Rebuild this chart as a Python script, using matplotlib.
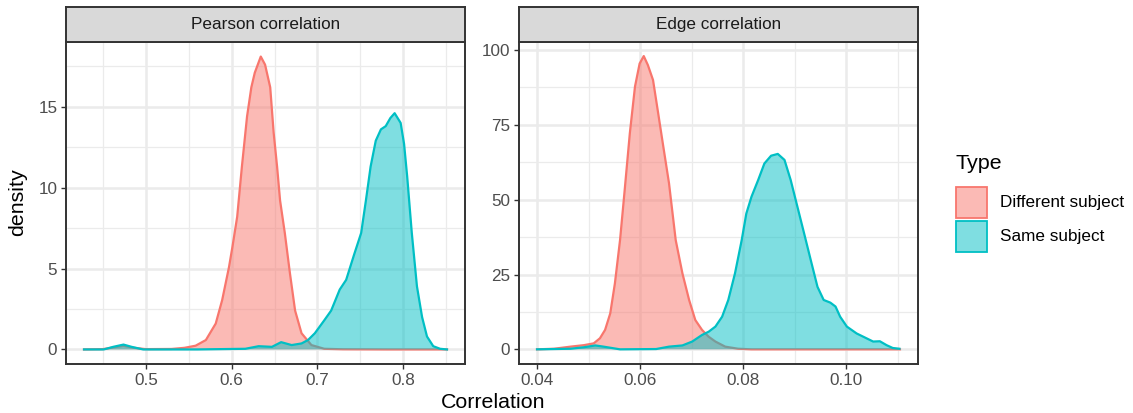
import matplotlib
matplotlib.use("Agg")
import matplotlib.pyplot as plt
from matplotlib.colors import to_rgba
from matplotlib.patches import Rectangle

plt.rcParams['font.family'] = ['Liberation Sans', 'DejaVu Sans']

# ---- data (density estimates) ----
panels = ['Pearson correlation', 'Edge correlation']
types = ['Different subject', 'Same subject']

pearson_diff_x = [0.428, 0.450, 0.462, 0.474, 0.486, 0.500, 0.530, 0.545, 0.558, 0.570,
                  0.5815, 0.589, 0.597, 0.601, 0.6065, 0.612, 0.618, 0.623, 0.627, 0.634,
                  0.639, 0.645, 0.649, 0.653, 0.6565, 0.662, 0.668, 0.674, 0.6815, 0.693,
                  0.708, 0.730, 0.780, 0.851]
pearson_diff_y = [0.0, 0.02, 0.12, 0.22, 0.10, 0.02, 0.03, 0.10, 0.23, 0.58,
                  1.6, 3.05, 5.1, 6.35, 8.2, 11.3, 14.4, 16.2, 17.1, 18.1,
                  17.6, 16.2, 13.4, 11.3, 9.2, 7.2, 4.7, 2.4, 1.0, 0.27,
                  0.04, 0.01, 0.0, 0.0]

pearson_same_x = [0.428, 0.451, 0.462, 0.474, 0.4835, 0.497, 0.560, 0.616, 0.6315, 0.647,
                  0.6577, 0.670, 0.6815, 0.689, 0.697, 0.708, 0.716, 0.726, 0.7335, 0.743,
                  0.751, 0.7565, 0.762, 0.768, 0.774, 0.7796, 0.785, 0.790, 0.797, 0.801,
                  0.8046, 0.810, 0.816, 0.822, 0.8277, 0.835, 0.843, 0.851]
pearson_same_y = [0.0, 0.0, 0.16, 0.30, 0.16, 0.0, 0.0, 0.04, 0.20, 0.16,
                  0.45, 0.27, 0.37, 0.58, 1.0, 1.8, 2.4, 3.7, 4.3, 5.9,
                  7.2, 9.2, 11.3, 12.9, 13.6, 13.8, 14.3, 14.6, 14.0, 12.7,
                  10.7, 7.2, 3.9, 2.0, 0.8, 0.2, 0.04, 0.0]

edge_diff_x = [0.0400, 0.0433, 0.0465, 0.0491, 0.0510, 0.0522, 0.0532, 0.0542, 0.0551, 0.0561,
               0.0570, 0.0580, 0.0590, 0.0599, 0.0607, 0.0615, 0.0625, 0.0634, 0.0644, 0.0656,
               0.0669, 0.0682, 0.0695, 0.0707, 0.0720, 0.0733, 0.0746, 0.0765, 0.0790, 0.0816,
               0.1104]
edge_diff_y = [0.0, 0.2, 0.9, 1.4, 2.0, 3.7, 6.5, 12.0, 22.0, 36.5,
               53.2, 72.2, 87.8, 95.5, 98.0, 95.0, 90.0, 80.0, 68.8, 55.5,
               36.5, 25.4, 16.5, 9.8, 6.5, 4.2, 2.6, 0.9, 0.2, 0.0,
               0.0]

edge_same_x = [0.0400, 0.0465, 0.0491, 0.0513, 0.0529, 0.0561, 0.0631, 0.0656, 0.0682, 0.0701,
               0.0720, 0.0733, 0.0746, 0.0759, 0.0771, 0.0784, 0.0797, 0.0806, 0.0816, 0.0829,
               0.0841, 0.0854, 0.0867, 0.0880, 0.0892, 0.0905, 0.0918, 0.0931, 0.0944, 0.0956,
               0.0969, 0.0979, 0.0988, 0.1001, 0.1020, 0.1039, 0.1052, 0.1065, 0.1078, 0.1090,
               0.1103]
edge_same_y = [0.0, 0.2, 0.7, 1.3, 0.9, 0.0, 0.1, 0.9, 1.3, 2.6,
               4.8, 5.9, 7.6, 10.9, 16.5, 25.4, 36.5, 45.4, 51.0, 56.6,
               62.1, 64.7, 65.3, 63.3, 56.6, 47.7, 38.8, 29.8, 20.9, 16.5,
               15.6, 14.3, 10.9, 7.6, 5.3, 3.7, 2.6, 2.7, 1.4, 0.45,
               0.2]

series = {
    panels[0]: [(pearson_diff_x, pearson_diff_y), (pearson_same_x, pearson_same_y)],
    panels[1]: [(edge_diff_x, edge_diff_y), (edge_same_x, edge_same_y)],
}
colors = ['#F8766D', '#00BFC4']

xlims = {panels[0]: (0.407, 0.872), panels[1]: (0.0365, 0.1139)}
ylims = {panels[0]: (-0.9, 19.0), panels[1]: (-4.9, 102.7)}
xmajor = {panels[0]: [0.5, 0.6, 0.7, 0.8], panels[1]: [0.04, 0.06, 0.08, 0.10]}
xminor = {panels[0]: [0.45, 0.55, 0.65, 0.75, 0.85], panels[1]: [0.05, 0.07, 0.09, 0.11]}
ymajor = {panels[0]: [0, 5, 10, 15], panels[1]: [0, 25, 50, 75, 100]}
yminor = {panels[0]: [2.5, 7.5, 12.5, 17.5], panels[1]: [12.5, 37.5, 62.5, 87.5]}
xfmt = {panels[0]: '{:.1f}', panels[1]: '{:.2f}'}

SMALL = 12.3
BIG = 15.4

W, H = 1133, 413
fig = plt.figure(figsize=(W / 100, H / 100), dpi=100)

lefts = [66, 519]
pw = 399
top, bottom = 42, 364
strip_h = 35

for panel, lx in zip(panels, lefts):
    ax = fig.add_axes([lx / W, (H - bottom) / H, pw / W, (bottom - top) / H])
    ax.set_xlim(*xlims[panel])
    ax.set_ylim(*ylims[panel])

    # grid
    for v in xminor[panel]:
        ax.axvline(v, color='#EBEBEB', lw=0.9, zorder=0)
    for v in yminor[panel]:
        ax.axhline(v, color='#EBEBEB', lw=0.9, zorder=0)
    for v in xmajor[panel]:
        ax.axvline(v, color='#EBEBEB', lw=1.8, zorder=0)
    for v in ymajor[panel]:
        ax.axhline(v, color='#EBEBEB', lw=1.8, zorder=0)

    for i, (xs, ys) in enumerate(series[panel]):
        ax.fill_between(xs, 0, ys, facecolor=colors[i], alpha=0.5, lw=0, zorder=2 + 2 * i)
        ax.plot(xs, ys, color=colors[i], lw=1.6, zorder=3 + 2 * i, solid_joinstyle='round')

    ax.set_xticks(xmajor[panel])
    ax.set_xticklabels([xfmt[panel].format(v) for v in xmajor[panel]])
    ax.set_yticks(ymajor[panel])
    ax.tick_params(axis='both', direction='out', length=3.8, width=1.0, color='#333333',
                   labelcolor='#4D4D4D', labelsize=SMALL, pad=2.5)
    for s in ax.spines.values():
        s.set_color('#333333')
        s.set_linewidth(1.4)
        s.set_zorder(10)

    # facet strip
    sax = fig.add_axes([lx / W, (H - top) / H, pw / W, strip_h / H])
    sax.set_xticks([])
    sax.set_yticks([])
    sax.set_facecolor('#D9D9D9')
    for s in sax.spines.values():
        s.set_color('#333333')
        s.set_linewidth(1.4)
    sax.text(0.5, 0.5, panel, ha='center', va='center', fontsize=SMALL, color='#1A1A1A',
             transform=sax.transAxes)

fig.text(18 / W, 1 - 202 / H, 'density', rotation=90, ha='center', va='center', fontsize=BIG)
fig.text(493 / W, 1 - 403 / H, 'Correlation', ha='center', va='center', fontsize=BIG)

# legend, drawn by hand to match ggplot key sizes
fig.text(955 / W, 1 - 164 / H, 'Type', ha='left', va='center', fontsize=BIG)
key_top = [186, 220]
for c, label, kt in zip(colors, types, key_top):
    fig.add_artist(Rectangle((956 / W, 1 - (kt + 32) / H), 31 / W, 31 / H,
                             transform=fig.transFigure, facecolor=to_rgba(c, 0.5),
                             edgecolor=c, lw=1.3))
    fig.text(1000 / W, 1 - (kt + 16) / H, label, ha='left', va='center', fontsize=SMALL)

fig.savefig('out.png', dpi=100)
